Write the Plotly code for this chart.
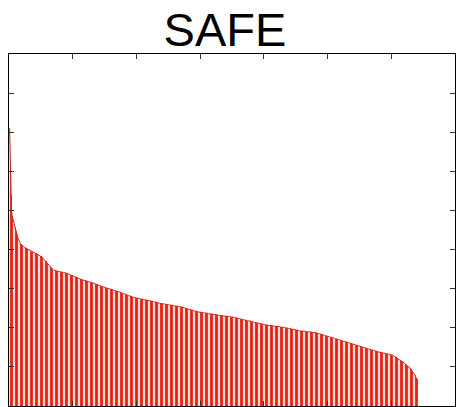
import plotly.graph_objects as go

title_text = "SAFE"

# sorted scores (descending)
scores_a = [7.10, 6.20, 5.40, 5.00,
            4.85, 4.78, 4.71, 4.65, 4.58, 4.52, 4.47, 4.42,
            4.36, 4.30, 4.25, 4.21, 4.17, 4.15, 4.13, 4.11, 4.09,
            4.08, 4.07, 4.06, 4.05, 4.04, 4.03, 4.02, 4.01, 4.00, 3.99, 3.98, 3.97, 3.96, 3.95, 3.95, 3.94,
            3.93, 3.93, 3.92, 3.91, 3.90, 3.90, 3.89, 3.88, 3.88, 3.87, 3.86,
            3.84, 3.83, 3.81, 3.80, 3.78, 3.76, 3.75, 3.73, 3.71, 3.70, 3.68,
            3.66, 3.63, 3.61, 3.59, 3.57, 3.55, 3.52, 3.50, 3.48]
scores_b = [3.48, 3.47, 3.47, 3.47, 3.46, 3.46, 3.45, 3.45, 3.45, 3.44, 3.44, 3.43, 3.43, 3.43, 3.42, 3.42, 3.42, 3.41, 3.41, 3.41, 3.40, 3.40,
            3.39, 3.39, 3.38, 3.37, 3.37, 3.36, 3.35, 3.34, 3.34, 3.33, 3.32, 3.31, 3.31, 3.30, 3.29, 3.29, 3.28, 3.27, 3.26, 3.26, 3.25,
            3.24, 3.24, 3.23, 3.23, 3.22, 3.22, 3.21, 3.21, 3.20, 3.20, 3.19, 3.19, 3.18, 3.18, 3.17, 3.17, 3.16, 3.16, 3.15, 3.15,
            3.14, 3.14, 3.13, 3.12, 3.12, 3.11, 3.11, 3.10, 3.09, 3.09, 3.08, 3.07, 3.07, 3.06, 3.06, 3.05, 3.04, 3.04, 3.03, 3.03, 3.02, 3.02,
            3.01, 3.01, 3.00, 3.00, 2.99, 2.99, 2.98, 2.98, 2.97, 2.97, 2.96, 2.96, 2.95, 2.95, 2.94, 2.94, 2.93, 2.93, 2.92, 2.92]
scores_c = [2.91, 2.91, 2.90, 2.89, 2.89, 2.88, 2.87, 2.87, 2.86, 2.85, 2.85, 2.84, 2.83, 2.83, 2.82, 2.82, 2.81, 2.80, 2.80, 2.79, 2.79,
            2.78, 2.78, 2.78, 2.77, 2.77, 2.76, 2.76, 2.76, 2.75, 2.75, 2.75, 2.74, 2.74, 2.73, 2.73, 2.73, 2.72, 2.72, 2.72, 2.71, 2.71, 2.71, 2.70, 2.70, 2.70, 2.69, 2.69,
            2.69, 2.68, 2.68, 2.68, 2.67, 2.67, 2.66, 2.66, 2.65, 2.65, 2.65, 2.64, 2.64, 2.63, 2.63,
            2.63, 2.62, 2.62, 2.62, 2.62, 2.61, 2.61, 2.61, 2.60, 2.60, 2.60, 2.60, 2.59, 2.59, 2.59, 2.58, 2.58, 2.58, 2.58, 2.57, 2.57, 2.57, 2.56, 2.56, 2.56, 2.56, 2.55, 2.55, 2.55, 2.54, 2.54, 2.54, 2.54, 2.53, 2.53, 2.53,
            2.52, 2.52, 2.51, 2.51, 2.50, 2.50, 2.49, 2.49, 2.48, 2.48, 2.47, 2.47, 2.46, 2.46, 2.45, 2.45, 2.44, 2.44, 2.43, 2.43, 2.42, 2.42, 2.41, 2.41, 2.41, 2.40, 2.40]
scores_d = [2.40, 2.40, 2.39, 2.39, 2.39, 2.39, 2.38, 2.38, 2.38, 2.37, 2.37, 2.37, 2.37, 2.36, 2.36, 2.36, 2.35, 2.35, 2.35, 2.35, 2.34, 2.34, 2.34, 2.34, 2.33, 2.33, 2.33,
            2.33, 2.33, 2.32, 2.32, 2.32, 2.32, 2.31, 2.31, 2.31, 2.31, 2.30, 2.30, 2.30, 2.30, 2.30, 2.29, 2.29, 2.29, 2.29, 2.29, 2.28, 2.28, 2.28, 2.28, 2.28,
            2.27, 2.27, 2.26, 2.26, 2.26, 2.25, 2.25, 2.24, 2.24, 2.23, 2.23, 2.23, 2.22, 2.22, 2.21, 2.21, 2.21, 2.20, 2.20, 2.19, 2.19, 2.19, 2.18, 2.18, 2.18, 2.17, 2.17,
            2.17, 2.16, 2.16, 2.15, 2.15, 2.15, 2.14, 2.14, 2.13, 2.13, 2.13, 2.12, 2.12, 2.11, 2.11, 2.11, 2.10, 2.10, 2.10, 2.09, 2.09, 2.08, 2.08, 2.08, 2.07, 2.07,
            2.07, 2.07, 2.06, 2.06, 2.06, 2.06, 2.05, 2.05, 2.05, 2.05, 2.05, 2.04, 2.04, 2.04, 2.04, 2.04, 2.03, 2.03, 2.03, 2.03, 2.03, 2.02, 2.02, 2.02, 2.02]
scores_e = [2.01, 2.01, 2.01, 2.00, 2.00, 2.00, 1.99, 1.99, 1.99, 1.98, 1.98, 1.98, 1.97, 1.97, 1.97, 1.96, 1.96, 1.96, 1.95, 1.95, 1.95, 1.94, 1.94, 1.94, 1.93, 1.93, 1.92,
            1.92, 1.92, 1.92, 1.92, 1.91, 1.91, 1.91, 1.91, 1.91, 1.90, 1.90, 1.90, 1.90, 1.90, 1.89, 1.89, 1.89, 1.89, 1.89, 1.88, 1.88, 1.88, 1.88, 1.88, 1.87, 1.87, 1.87,
            1.86, 1.86, 1.85, 1.85, 1.84, 1.84, 1.83, 1.83, 1.82, 1.82, 1.81, 1.81, 1.80, 1.80, 1.79, 1.79, 1.78, 1.78, 1.77, 1.77, 1.76, 1.76, 1.75, 1.75, 1.74,
            1.74, 1.73, 1.73, 1.72, 1.72, 1.71, 1.71, 1.70, 1.70, 1.69, 1.69, 1.68, 1.68, 1.67, 1.67, 1.66, 1.66, 1.65, 1.65, 1.64, 1.64, 1.63, 1.63, 1.62, 1.62, 1.61, 1.61]
scores_f = [1.60, 1.60, 1.59, 1.59, 1.58, 1.58, 1.57, 1.57, 1.56, 1.56, 1.55, 1.55, 1.54, 1.54, 1.53, 1.53, 1.52, 1.52, 1.51, 1.51, 1.50, 1.50, 1.49, 1.49, 1.48, 1.48,
            1.47, 1.47, 1.46, 1.46, 1.45, 1.45, 1.44, 1.44, 1.43, 1.43, 1.42, 1.42, 1.41, 1.41, 1.40, 1.40, 1.39, 1.39, 1.38, 1.38, 1.37, 1.37, 1.37, 1.36, 1.36,
            1.36, 1.35, 1.35, 1.35, 1.34, 1.34, 1.33, 1.33, 1.33, 1.32, 1.32, 1.31, 1.31, 1.31, 1.30, 1.30,
            1.29, 1.28, 1.27, 1.26, 1.25, 1.24, 1.23, 1.22, 1.21, 1.19, 1.18,
            1.17, 1.16, 1.15, 1.14, 1.13, 1.11, 1.10, 1.09, 1.08, 1.06, 1.05,
            1.03, 1.02, 1.00, 0.99, 0.97, 0.95, 0.94, 0.92, 0.90,
            0.88, 0.85, 0.82, 0.79, 0.76, 0.72, 0.69]

scores = scores_a + scores_b + scores_c + scores_d + scores_e + scores_f
ranks = list(range(1, len(scores) + 1))

x_ticks = [100, 200, 300, 400, 500, 600]
y_ticks = [1, 2, 3, 4, 5, 6, 7, 8]

fig = go.Figure()
fig.add_trace(go.Bar(
    x=ranks, y=scores,
    marker=dict(
        color="rgb(236,30,16)", line=dict(width=0),
        pattern=dict(shape="|", fgcolor="rgb(236,30,16)", bgcolor="rgb(250,222,218)",
                     size=5, solidity=0.55, fillmode="replace"),
    ),
    hoverinfo="skip",
))
fig.add_trace(go.Scatter(
    x=ranks, y=scores, mode="lines",
    line=dict(color="rgb(200,45,40)", width=1),
    hoverinfo="skip",
))

axis_common = dict(
    showline=True, linecolor="black", linewidth=1, mirror="allticks",
    ticks="inside", ticklen=5, tickcolor="#333", tickwidth=1,
    showticklabels=False, showgrid=False, zeroline=False,
)
fig.update_xaxes(range=[0, 700], tickvals=x_ticks, **axis_common)
fig.update_yaxes(range=[0, 9], tickvals=y_ticks, **axis_common)

fig.update_layout(
    width=456, height=407,
    margin=dict(l=9, r=1, t=54, b=1),
    paper_bgcolor="white", plot_bgcolor="white",
    showlegend=False, bargap=0.0,
    title=dict(text=title_text, xref="container", x=225 / 456, xanchor="center",
               yref="container", y=1 - 30 / 407, yanchor="middle",
               font=dict(family="Liberation Sans, Arial, sans-serif", size=47, color="black")),
)

fig.write_html(
    "out.html",
    config={"displayModeBar": False},
    post_script="document.body.style.margin='0px';document.body.style.overflow='hidden';",
)
